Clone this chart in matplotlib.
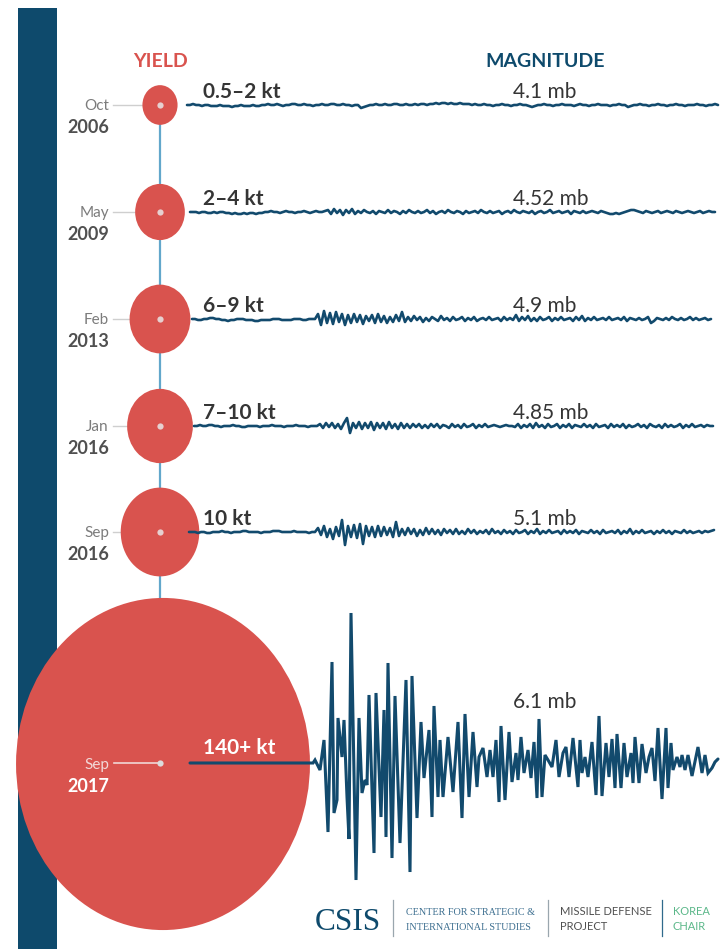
import matplotlib
matplotlib.use("Agg")
import matplotlib.pyplot as plt
from matplotlib.patches import Ellipse, Rectangle
import numpy as np

# ---- data -------------------------------------------------------------
months = ["Oct", "May", "Feb", "Jan", "Sep", "Sep"]
years = ["2006", "2009", "2013", "2016", "2016", "2017"]
yield_labels = ["0.5–2 kt", "2–4 kt", "6–9 kt", "7–10 kt", "10 kt", "140+ kt"]
circle_kt = [2, 4, 6, 7, 10, 140]          # yield used to size each bubble
magnitudes_mb = [4.1, 4.52, 4.9, 4.85, 5.1, 6.1]

# seismogram amplitudes, one sample per time step
trace_2006 = [0, 0, 1, 0, 0, -1, 0, 0, -1,
              -1, -1, 0, -1, -1, -1, -2, -1, -1, 0, -1, -1, -1, 0, -1, -1, 0,
              0, 1, 0, 0, 1, 0, -1, 0, 0, 1, 1, 0, 0, 1, 0, 0, -1, 0, 0, 1, 0, 0, 1, 1, 0, 0, 1, 0, 0, -1, 0, 0,
              -3, -2, -1,
              0, 0, 1, 0, 0, 1, 0, 0, 1, 1, 0, 0, 1, 0, 0, 1, 0, 1, 1, 0, 1,
              1, 2, 1, 2, 2, 1, 2, 1, 1, 2, 1, 1,
              1, 0, 1, 0, 0, 1, 0, 0, -1, 0, 0, 1, 0, 0, -1, 0, 0, 1, 0, 0, -1,
              -2, -1,
              0, 0, 1, 0, 0, -1, 0, 0, 1, 0, 0, 0, -1, 0, 1, 0, 0, -1, 0, 0, 1, 0, 0, 0, -1, 0, 0, 1, 0, 0,
              -2, -1,
              0, 0, 1, 0, 0, -1, 0, 0, 1, 0, 0, -1, 0, 0, 1, 0, 0, -1, 0, 0, 0, 1, 0, 0, -1, 0, 0, 1, 0]

trace_2009 = [0, 0, 0, -1, 0, 0, -1, -1, 0, -1, 0, 0, -1,
              -1, -2, -1, -2, -2, -1, -2, -1, -1, -2, -1, -1,
              0, 0, 1, 0, 0, -1, 0, 1, 0, 0, -1, 0, 0, 1, 0, -1, 0, 1, 0, 0, 1,
              2, -2, 3, -1, 2, -3, 2, -1, 3, -2,
              1, -1, 2, 0, -1, 1, -2, 1, 0, -1, 2, -1, 1, 0, -2, 1, -1, 2, 0, -1, 1, -1, 0, 2, -1, 1, -2, 0,
              1, -1, 2, 0, -1, 1, 0, -2, 1, -1, 0, 1, -1, 2, 0, -1, 1, -1, 0, 1, -2, 0, 1, -1, 2, 0, -1, 1,
              0, -1, 1, -2, 0, 1, -1, 0, 2, -1, 0, 1, -1, 0, 1, -2, 1, 0, -1, 1, -1, 0, 1, 0, -1, 1, 0,
              -1, -2, -2, -1, -2, -1, 0,
              1, 2, 2, 1,
              0, -1, 1, 0, -1, 0, 1, -1, 0, 1, 0, -1, 1, 0, -1, 0, 1, 0, -1, 0, 1, -1, 0, 1, 0, 0]

trace_2013 = [0, 0, -1, -1, 0, 0, 1, 1, 0, 0, -1, -1, -2, -1, -1, 0, 0, 0, -1, -1, -1, -2, -2, -1, -1, -1, -1,
              0, 0, 0, -1, -1, -1, -1, 0, 0, 0, -1, -1, 0, 0, 0,
              5, -6, 8, -4, 6, -5, 7, -3, 5, -6,
              4, -4, 5, -3, 4, -5, 3, -2, 4, -4, 5, -3, 3, -4, 2, -3, 4, -2,
              7, -3,
              2, -2, 3, -1, 2, -3, 1, -2, 2, 0, -2, 3, -1, 1, -2, 2, -1, 0, 2, -2, 1, -1, 2, -2, 0, 1, -1, 2,
              -1, 0, 1, -2, 2, -1, 1, -1,
              4, -2, 2, -1, 3, -2, 1, -2, 2, -1, 0, 2, -2, 1, -1, 2, -1, 0, 1, -2, 2, -1, 3, -2, 1, -1, 2, -1, 0,
              1, -1, 2, -1, 0, 1, -1, 2, -2, 1, 0, -1, 1, -1, 0, 2, -4, -2, 1, 0, -1, 1, -1, 2, 0, -1, 1, -1,
              0, 2, -1, 1, -1, 0, 1, -1, 0]

trace_2016a = [0, 0, 1, 0, 0, 1, 1, 0, 0, -1, 0, 0, 0, 1, 0, 0, -1, -1, 0, 0, 0, 0, -1, 0, 0, 0, 1, 0, 0, 0,
               -1, 0, 0, 0, 1, 0, 0, 0, -1, 0, 0, 0,
               2, -2, 3, -1, 3, -2, 2, -3, 3,
               8, -7,
               3, -2, 4, -3, 3, -2, 4, -4, 3, -2, 3, -3, 4, -2, 2, -3, 3, -2, 2, -2,
               2, -1, 2, -2, 1, -2, 2, -1, 2, -2, 1, 0, -2, 2, -1, 1, -2, 2, -1, 0, 2, -2, 1, -1, 2, -1,
               0, 1, 0, -1, 0, 1, 0, 0, -1,
               2, -2, 1, -1, 2, -2, 3, -1, 1, -2, 2, -1, 0, 2, -2, 1, -1, 2, -2, 1, 0, -1, 2, -1, 1, -2, 2, -1,
               0, 1, -2, 2, -1, 1, -1, 2, -2, 1, -1, 0, 2, -1, 1, -2, 2, 0, -1, 1, -2, 2, -1, 1, -1, 0, 2, -2,
               1, -1, 2, -1, 0, 1, -1, 1, 0, 0]

trace_2016b = [0, 0, 0, -1, 0, 0, -1, -1, 0, 0, 0, 1, 0, 0, -1, 0, 0, 0, 1, 1, 0, 0, 0, 0, -1, 0, 0, 0, 1, 1,
               1, 0, 0, 0, 0, 1, 0, 0, 0, 0, -1, 0, 0,
               4, -3, 6, -5, 3, -7, 5, -4, 12, -13, 6, -5, 7, -6, 8, -12, 6, -4, 5, -5, 6, -4, 5, -3, 4, -5, 10, -4,
               3, -3, 4, -2, 3, -4, 2, -3, 4, -2, 3, -2, 2, -3, 3, -1, 2, -2, 3, -2, 1, -2, 3, -1, 2, -2, 1, -1,
               2, -2, 3, -1, 1, -2,
               2, -1, 1, -2, 2, -1, 0, 2, -2, 1, -1, 3, -2, 1, -1, 2, -1, 0, 1, -2, 2, -1, 1, -1, 2, -2, 1, 0,
               -1, 2, -1, 1, -2, 2, -1, 0, 1, -1, 2, -2, 1, -1, 3, -2, 1, -1, 2, -1, 0, 1, -2, 1, -1, 2, -1, 1,
               -2, 1, 0, -1, 2, -1, 1, -1, 0, 1, -1, 1, 0, 1, 2]

# 2017 record: sample times and amplitudes
trace_2017_t = [0, 123, 125, 130, 134, 138, 142, 144, 147, 148, 152, 154, 157, 159, 161, 166, 169, 172, 175,
                177, 179, 184, 186, 191, 194, 196, 198, 202, 205, 210, 216, 220, 222, 227, 231, 234, 239, 242,
                244, 248, 250, 253, 258, 263, 268, 272, 275, 279, 283, 287, 289, 293, 297, 300, 303, 306, 309,
                311, 315, 319, 322, 326, 328, 331, 334, 338, 341, 344, 347, 349, 352, 355, 358, 362, 366, 369,
                373, 376, 379, 383, 388, 390, 392, 395, 398, 402, 406, 409, 412, 416, 419, 422, 425, 427, 431,
                434, 437, 441, 443, 445, 449, 452, 456, 459, 462, 465, 468, 472, 476, 478, 481, 483, 487, 490,
                492, 495, 498, 502, 508, 512, 515, 518, 522, 525, 528]
trace_2017_amp = [0, 0, 3, -7, 23, -69, 101, -50, -37, 45, 6, 43, -34, -76, 150, -117, 45, -30, -17,
                  -22, 68, -90, 70, -54, 53, -74, 100, -95, 67, -80, 83, -109, 87, -55, 41, -15, 33, -54,
                  57, -34, 23, -34, 26, -29, 41, -55, 49, -34, 31, -24, 6, 15, -14, 13, -14, 23, -39,
                  37, -37, 31, -19, 10, -17, 26, -10, 13, -15, 21, -35, 44, -34, 8, 3, -4, 23, -14,
                  10, 16, -14, 25, -24, 23, -10, 6, -14, 21, -32, 47, -33, 20, -14, 24, -25, 29, -25,
                  20, -14, 10, -20, 26, -20, 19, -10, 6, 15, -18, 35, -36, 35, -25, 20, -7, 6, -4,
                  8, -7, 8, -13, 16, -10, 8, -10, -5, 1, 4]

small_traces = [trace_2006, trace_2009, trace_2013, trace_2016a, trace_2016b]

# ---- styling ------------------------------------------------------------
NAVY = "#0e4a6c"
TRACE = "#124a6d"
RED = "#d9534e"
STEM = "#62a7cb"
DARK = "#353535"
FONT = "Lato"

fig = plt.figure(figsize=(7.25, 9.49), dpi=100)
ax = fig.add_axes([0, 0, 1, 1])
ax.set_xlim(0, 725)
ax.set_ylim(949, 0)
ax.axis("off")

# left band
ax.add_patch(Rectangle((18, 8), 39, 941, color=NAVY, zorder=1, lw=0))

row_y = [105, 212, 319, 426, 532, 764]
cx = 160
r_scale = 12.42          # bubble radius per sqrt(kt)
stretch = 1.13           # vertical stretch of the bubbles

# timeline stem
ax.plot([cx, cx], [row_y[0], 600], color=STEM, lw=1.6, zorder=2)

# headers
ax.text(161, 67, "YIELD", color=RED, fontsize=14, fontweight="bold",
        family=FONT, ha="center", va="baseline")
ax.text(545, 67, "MAGNITUDE", color=NAVY, fontsize=14, fontweight="bold",
        family=FONT, ha="center", va="baseline")

trace_starts = [187, 190, 192, 194, 189]
step = 3.0

for i, (mon, yr, ylab, kt, mb) in enumerate(zip(months, years, yield_labels,
                                                circle_kt, magnitudes_mb)):
    y = row_y[i]
    r = r_scale * np.sqrt(kt)
    big = i == len(months) - 1
    bx = cx + (3 if big else 0)
    # bubble
    ax.add_patch(Ellipse((bx, y), 2 * r, 2 * r * stretch, color=RED, lw=0, zorder=3))
    # date connector
    if big:
        ax.plot([114, cx], [y - 1, y - 1], color="#f1d6d5", lw=1.2, zorder=4)
        ax.plot([cx], [y - 1], "o", ms=4.5, color="#dcdcdc", mec="none", zorder=5)
        mcol, ycol = "#f2d8d7", "#ffffff"
    else:
        ax.plot([113, cx - r], [y, y], color="#cfcfcf", lw=1.0, zorder=2)
        ax.plot([cx], [y], "o", ms=4.5, color="#e6d0d0", mec="none", zorder=5)
        mcol, ycol = "#7c7c7c", "#505050"
    ax.text(109, y + 5, mon, color=mcol, fontsize=11,
            family=FONT, ha="right", va="baseline", zorder=6)
    ax.text(109, y + 28, yr, color=ycol, fontsize=13, fontweight="bold",
            family=FONT, ha="right", va="baseline", zorder=6)
    # yield label
    ax.text(203, y - (10 if big else 7), ylab, color="white" if big else DARK,
            fontsize=15, fontweight="bold", family=FONT, ha="left",
            va="baseline", zorder=6)
    # magnitude label
    ax.text(513, y - (56 if big else 7), f"{mb:g} mb", color=DARK, fontsize=15,
            family=FONT, ha="left", va="baseline", zorder=6)

    # seismogram
    if big:
        t = np.asarray(trace_2017_t, float)
        a = np.asarray(trace_2017_amp, float)
        ax.plot(190 + t, (y - 1) - a, color=TRACE, lw=2.2, zorder=5,
                solid_joinstyle="miter", solid_capstyle="round")
    else:
        a = np.asarray(small_traces[i], float)
        xs = trace_starts[i] + step * np.arange(len(a))
        ax.plot(xs, y - a, color=TRACE, lw=1.9, zorder=5,
                solid_joinstyle="round", solid_capstyle="round")

# footer logos
ax.text(315, 930, "CSIS", color=NAVY, fontsize=22.5, family="Liberation Serif",
        ha="left", va="baseline")
ax.plot([393, 393], [900, 936], color="#9aa6ae", lw=0.9)
ax.text(406, 915, "CENTER FOR STRATEGIC &", color="#3d6f90", fontsize=7.3,
        family="Liberation Serif", ha="left", va="baseline")
ax.text(406, 930, "INTERNATIONAL STUDIES", color="#3d6f90", fontsize=7.3,
        family="Liberation Serif", ha="left", va="baseline")
ax.plot([548, 548], [900, 936], color="#9aa6ae", lw=0.9)
ax.text(560, 915, "MISSILE DEFENSE", color="#505050", fontsize=8,
        family=FONT, ha="left", va="baseline")
ax.text(560, 930, "PROJECT", color="#505050", fontsize=8,
        family=FONT, ha="left", va="baseline")
ax.plot([662, 662], [900, 936], color="#2f6a8c", lw=0.9)
ax.text(673, 915, "KOREA", color="#5cb88a", fontsize=8,
        family=FONT, ha="left", va="baseline")
ax.text(673, 930, "CHAIR", color="#5cb88a", fontsize=8,
        family=FONT, ha="left", va="baseline")

fig.savefig("out.png", dpi=100, facecolor="white")
